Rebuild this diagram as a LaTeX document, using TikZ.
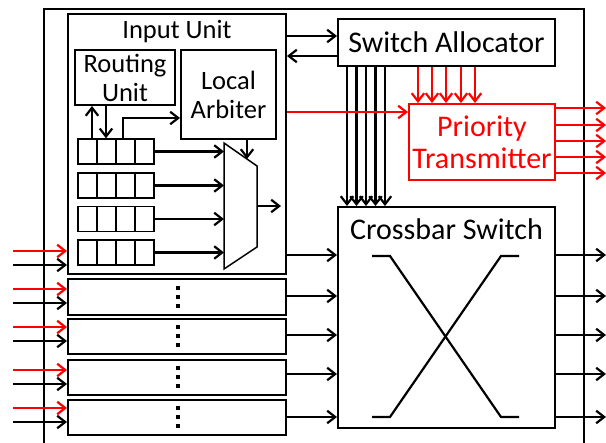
\documentclass[tikz,border=0pt]{standalone}
\usepackage{fontspec}
\setmainfont{Carlito}
\usetikzlibrary{arrows.meta,calc}
\definecolor{pred}{RGB}{255,0,0}
\tikzset{
  box/.style={draw, line width=2pt, inner sep=0pt, fill=white},
  cell/.style={draw, line width=1.4pt, minimum width=19pt, minimum height=25pt, inner sep=0pt},
  sm/.style={font=\fontsize{26.5}{29}\selectfont, align=center, inner sep=0pt},
  bg/.style={font=\fontsize{30}{32}\selectfont, align=center, inner sep=0pt},
  arr/.style={line width=2.2pt, -{Straight Barb[length=8pt,width=12.5pt]}},
  rarr/.style={arr, pred},
  ln/.style={line width=2.2pt},
}
\begin{document}
\begin{tikzpicture}[x=1pt,y=-1pt]
\useasboundingbox (0,0) rectangle (606,443);
% outer frame
\draw[line width=1.8pt] (44,470) -- (44,9) -- (584,9) -- (584,470);
% input unit
\node[box, minimum width=218pt, minimum height=260pt] (iu) at (177,144) {};
\node[sm] (iut) at (177,32) {Input Unit};
\node[box, minimum width=100pt, minimum height=55pt, sm] (ru) at (125,77.5) {Routing\\Unit};
\node[box, minimum width=95pt, minimum height=89pt, sm] (la) at (228.5,94.5) {Local\\Arbiter};
% buffers
\foreach \r/\y in {1/151.5,2/185.5,3/219,4/252.5}{
  \foreach \c in {1,2,3,4}{
    \node[cell] (b\r\c) at ({78+19*(\c-0.5)},\y) {};
  }
}
% mux
\coordinate (mtl) at (224,143);
\coordinate (mtr) at (257,166);
\coordinate (mbr) at (257,247);
\coordinate (mbl) at (224,269);
\draw[line width=1.5pt, fill=white] (mtl) -- (mtr) -- (mbr) -- (mbl) -- cycle;
\foreach \r/\y in {1/151.5,2/185.5,3/219,4/252.5}{
  \coordinate (mi\r) at (224,\y);
  \draw[arr] (b\r4.east) -- (mi\r);
}
\coordinate (mo) at (257,206);
\coordinate (moe) at (281,206);
\draw[arr] (mo) -- (moe);
\coordinate (las) at (247,159);
\draw[arr] (la.south -| las) -- (las);
% routing arrows
\draw[arr] (b11.north -| 92,0) -- (ru.south -| 92,0);
\draw[arr] (ru.south -| 106,0) -- (b12.north -| 106,0);
\draw[arr] (b12.north -| 123,0) -- (123,118) -- (la.west |- 0,118);
% other input boxes
\foreach \i/\ya/\yb in {2/279/315,3/319/354,4/360/395,5/400/435}{
  \node[box, minimum width=218pt, minimum height={(\yb-\ya)*1pt}] (iu\i) at (177,{(\ya+\yb)/2}) {};
  \foreach \d in {-9,0,9}{
    \fill ($(iu\i.center)+(0.5,\d)$) ++(-2,-2) rectangle ++(4,4);
  }
}
% switch allocator
\node[box, minimum width=217pt, minimum height=47pt, bg] (sa) at (446.5,42.5) {Switch Allocator};
\draw[arr] (iu.east |- 0,36) -- (sa.west |- 0,36);
\draw[arr] (sa.west |- 0,56) -- (iu.east |- 0,56);
% priority transmitter
\node[box, draw=pred, text=pred, minimum width=146pt, minimum height=76pt, bg] (pt) at (482,142) {Priority\\Transmitter};
% crossbar
\node[box, minimum width=217pt, minimum height=221pt] (cb) at (446.5,317.5) {};
\node[bg] (cbt) at (446.5,229) {Crossbar Switch};
\foreach \x in {347,356.5,366,375.5,385}{
  \draw[arr] (sa.south -| \x,0) -- (cb.north -| \x,0);
}
\foreach \x in {418,432,446,461,475}{
  \draw[rarr] (sa.south -| \x,0) -- (pt.north -| \x,0);
}
\draw[rarr] (iu.east |- 0,112) -- (pt.west |- 0,112);
\foreach \y in {108,125,141,157,173}{
  \coordinate (po\y) at (606,\y);
  \draw[rarr] (pt.east |- 0,\y) -- (po\y);
}
% X
\coordinate (x1) at (372,256); \coordinate (x2) at (390,256);
\coordinate (x3) at (501,417); \coordinate (x4) at (519,417);
\coordinate (y1) at (372,417); \coordinate (y2) at (390,417);
\coordinate (y3) at (501,256); \coordinate (y4) at (519,256);
\draw[ln] (x1) -- (x2) -- (x3) -- (x4);
\draw[ln] (y1) -- (y2) -- (y3) -- (y4);
% crossbar inputs and outputs
\foreach \y in {255,296,335,374,417}{
  \coordinate (co\y) at (606,\y);
  \draw[arr] (iu.east |- 0,\y) -- (cb.west |- 0,\y);
  \draw[arr] (cb.east |- 0,\y) -- (co\y);
}
% left inputs
\foreach \yr/\yk/\n in {251/265/iu,289/303/iu2,327/341/iu3,370/384/iu4,408/422/iu5}{
  \coordinate (lr\yr) at (13,\yr);
  \coordinate (lk\yk) at (13,\yk);
  \draw[rarr] (lr\yr) -- (\n.west |- 0,\yr);
  \draw[arr] (lk\yk) -- (\n.west |- 0,\yk);
}
\end{tikzpicture}
\end{document}
